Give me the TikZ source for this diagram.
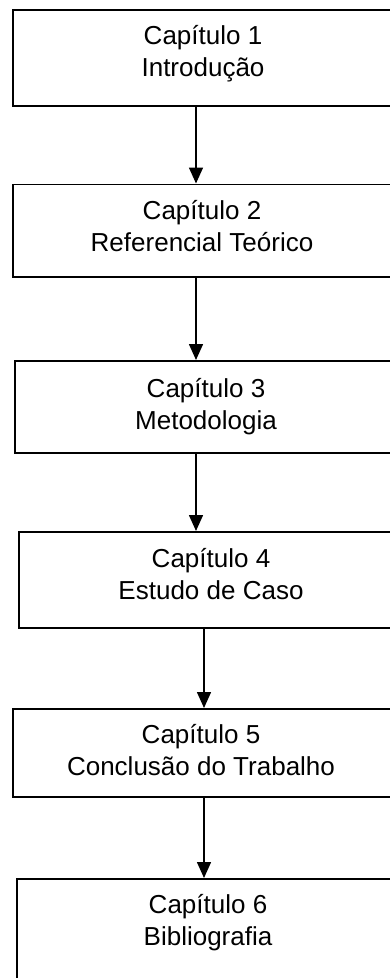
\documentclass[tikz,border=0pt]{standalone}
\usepackage{fontspec}
\setmainfont{Liberation Sans}
\usetikzlibrary{arrows.meta,calc}
\begin{document}
\begin{tikzpicture}[x=1pt,y=1pt,
  chbox/.style={draw=black, line width=1.8pt, rectangle, inner sep=0pt},
  chtext/.style={align=center, inner sep=0pt, anchor=base, font=\fontsize{26pt}{32pt}\selectfont},
  arr/.style={line width=1.5pt, -{Triangle[width=14pt,length=16pt]}}]
\useasboundingbox (0,0) rectangle (390,-978);
\fill[white] (0,0) rectangle (390,-978);
\clip (0,0) rectangle (390,-978);
% boxes (left,top) -> (right,bottom)
\node[chbox, minimum width=384pt, minimum height=96pt, anchor=north west] (b1) at (12,-9) {};
\node[chbox, minimum width=384pt, minimum height=92.5pt, anchor=north west] (b2) at (12,-183.5) {};
\node[chbox, minimum width=382pt, minimum height=92pt, anchor=north west] (b3) at (14,-360) {};
\node[chbox, minimum width=378pt, minimum height=96pt, anchor=north west] (b4) at (18,-531) {};
\node[chbox, minimum width=384pt, minimum height=88pt, anchor=north west] (b5) at (12,-708) {};
\node[chbox, minimum width=380pt, minimum height=110pt, anchor=north west] (b6) at (16,-878) {};
% texts (anchor = baseline of the second line)
\node[chtext] (t1) at (203,-76) {Capítulo 1\\Introdução};
\node[chtext] (t2) at (202,-251.5) {Capítulo 2\\Referencial Teórico};
\node[chtext] (t3) at (206,-429) {Capítulo 3\\Metodologia};
\node[chtext] (t4) at (211,-599) {Capítulo 4\\Estudo de Caso};
\node[chtext] (t5) at (201,-775) {Capítulo 5\\Conclusão do Trabalho};
\node[chtext] (t6) at (208,-945) {Capítulo 6\\Bibliografia};
% arrow columns
\coordinate (xa) at (196,0);
\coordinate (xb) at (204,0);
\draw[arr] (b1.south -| xa) -- (b2.north -| xa);
\draw[arr] (b2.south -| xa) -- (b3.north -| xa);
\draw[arr] (b3.south -| xa) -- (b4.north -| xa);
\draw[arr] (b4.south -| xb) -- (b5.north -| xb);
\draw[arr] (b5.south -| xb) -- (b6.north -| xb);
\end{tikzpicture}
\end{document}
